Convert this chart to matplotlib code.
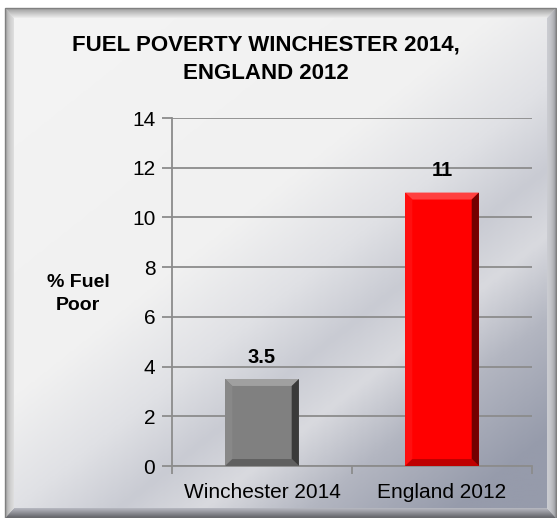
import numpy as np
import matplotlib.pyplot as plt
from matplotlib.colors import LinearSegmentedColormap, to_rgb
from matplotlib.patches import Polygon

plt.rcParams["font.family"] = ["Liberation Sans", "DejaVu Sans"]

# data
categories = ["Winchester 2014", "England 2012"]
values = [3.5, 11]
bar_colors = ["#808080", "#ff0000"]
yticks = [0, 2, 4, 6, 8, 10, 12, 14]

W, H = 557, 518
fig = plt.figure(figsize=(W / 100, H / 100), dpi=100)

# background panel with diagonal metallic gradient
bg = fig.add_axes([0, 0, 1, 1])
bg.set_xlim(0, W)
bg.set_ylim(H, 0)
bg.axis("off")

cmap = LinearSegmentedColormap.from_list("metal", [
    (0.0, "#f4f4f4"), (0.45, "#f1f1f1"), (0.58, "#e0e1e5"),
    (0.68, "#c9cbd3"), (0.76, "#d9dadf"), (0.86, "#b3b6c1"),
    (1.0, "#969bab")])
ox0, ox1, oy0, oy1 = 5, 556, 8, 518
x0, x1, y0, y1 = 14, 547, 18, 508
xx, yy = np.meshgrid(np.linspace(0, 1, 300), np.linspace(0, 1, 300))
grad = np.clip(0.5 * xx + 0.58 * yy, 0, 1)
bg.imshow(grad, cmap=cmap, vmin=0, vmax=1, extent=[x0, x1, y1, y0],
          aspect="auto", interpolation="bilinear")

# bevelled frame, drawn as thin strips from outer to inner edge
def mix(a, b, t):
    a, b = np.array(to_rgb(a)), np.array(to_rgb(b))
    return tuple(a + (b - a) * t)

def lerp(p, q, t):
    return (p[0] + (q[0] - p[0]) * t, p[1] + (q[1] - p[1]) * t)

outer = [(ox0, oy0), (ox1, oy0), (ox1, oy1), (ox0, oy1)]
inner = [(x0, y0), (x1, y0), (x1, y1), (x0, y1)]
# top, right, bottom, left: (outer colour, inner colour)
edge_cols = [("#9a9a9a", "#eeeeee"), ("#8a8b90", "#c8cad0"),
             ("#5e5f64", "#b8bac2"), ("#8e8e8e", "#dedede")]
steps = 10
for e, (co, ci) in enumerate(edge_cols):
    a_o, b_o = outer[e], outer[(e + 1) % 4]
    a_i, b_i = inner[e], inner[(e + 1) % 4]
    for k in range(steps):
        t0, t1 = k / steps, (k + 1) / steps
        pts = [lerp(a_o, a_i, t0), lerp(b_o, b_i, t0),
               lerp(b_o, b_i, t1), lerp(a_o, a_i, t1)]
        bg.add_patch(Polygon(pts, closed=True, facecolor=mix(co, ci, (k + 0.5) / steps),
                             edgecolor="none"))
bg.add_patch(Polygon(outer, closed=True, fill=False, edgecolor="#808080", lw=1))

# main chart
ax = fig.add_axes([172 / W, 1 - 466 / H, 360 / W, 348 / H])
ax.patch.set_alpha(0)
x = np.arange(len(categories))
bars = ax.bar(x, values, width=0.41, color=bar_colors, zorder=3)

ax.set_xlim(-0.5, len(categories) - 0.5)
ax.set_ylim(0, 14)
ax.set_yticks(yticks)
ax.set_xticks(x)
ax.set_xticklabels(categories, fontsize=15)
ax.set_xticks([-0.5, 0.5, 1.5], minor=True)
ax.tick_params(axis="x", which="major", length=0, pad=12)
ax.tick_params(axis="x", which="minor", length=6, width=1.3, color="#8c8c8c")
ax.tick_params(axis="y", length=7, width=1.3, color="#8c8c8c", labelsize=15, pad=5)
ax.grid(True, axis="y", color="#8c8c8c", lw=1.3, zorder=0)
for s in ["top", "right"]:
    ax.spines[s].set_visible(False)
for s in ["left", "bottom"]:
    ax.spines[s].set_color("#8c8c8c")
    ax.spines[s].set_linewidth(1.3)

# bevel shading on each bar
def shade(c, f):
    r, g, b = to_rgb(c)
    if f >= 0:
        return (r + (1 - r) * f, g + (1 - g) * f, b + (1 - b) * f)
    return (r * (1 + f), g * (1 + f), b * (1 + f))

bx, by = 0.04, 0.28
for bar, c in zip(bars, bar_colors):
    l, w, h = bar.get_x(), bar.get_width(), bar.get_height()
    r = l + w
    faces = [
        ([(l, h), (r, h), (r - bx, h - by), (l + bx, h - by)], shade(c, 0.25)),
        ([(l, 0), (l, h), (l + bx, h - by), (l + bx, by)], shade(c, 0.06)),
        ([(r, 0), (r, h), (r - bx, h - by), (r - bx, by)], shade(c, -0.55)),
        ([(l, 0), (r, 0), (r - bx, by), (l + bx, by)], shade(c, -0.25)),
    ]
    for pts, fc in faces:
        ax.add_patch(Polygon(pts, closed=True, facecolor=fc, edgecolor="none", zorder=4))
    ax.text(l + w / 2, h + 0.5, f"{h:g}", ha="center", va="bottom",
            fontsize=14.5, fontweight="bold", zorder=5)

fig.text(266 / W, 1 - 59 / H, "FUEL POVERTY WINCHESTER 2014,\nENGLAND 2012",
         ha="center", va="center", fontsize=16, fontweight="bold", linespacing=1.45)
fig.text(78 / W, 1 - 294 / H, "% Fuel\nPoor", ha="center", va="center",
         fontsize=14, fontweight="bold", linespacing=1.4)

fig.savefig("out.png", dpi=100)
